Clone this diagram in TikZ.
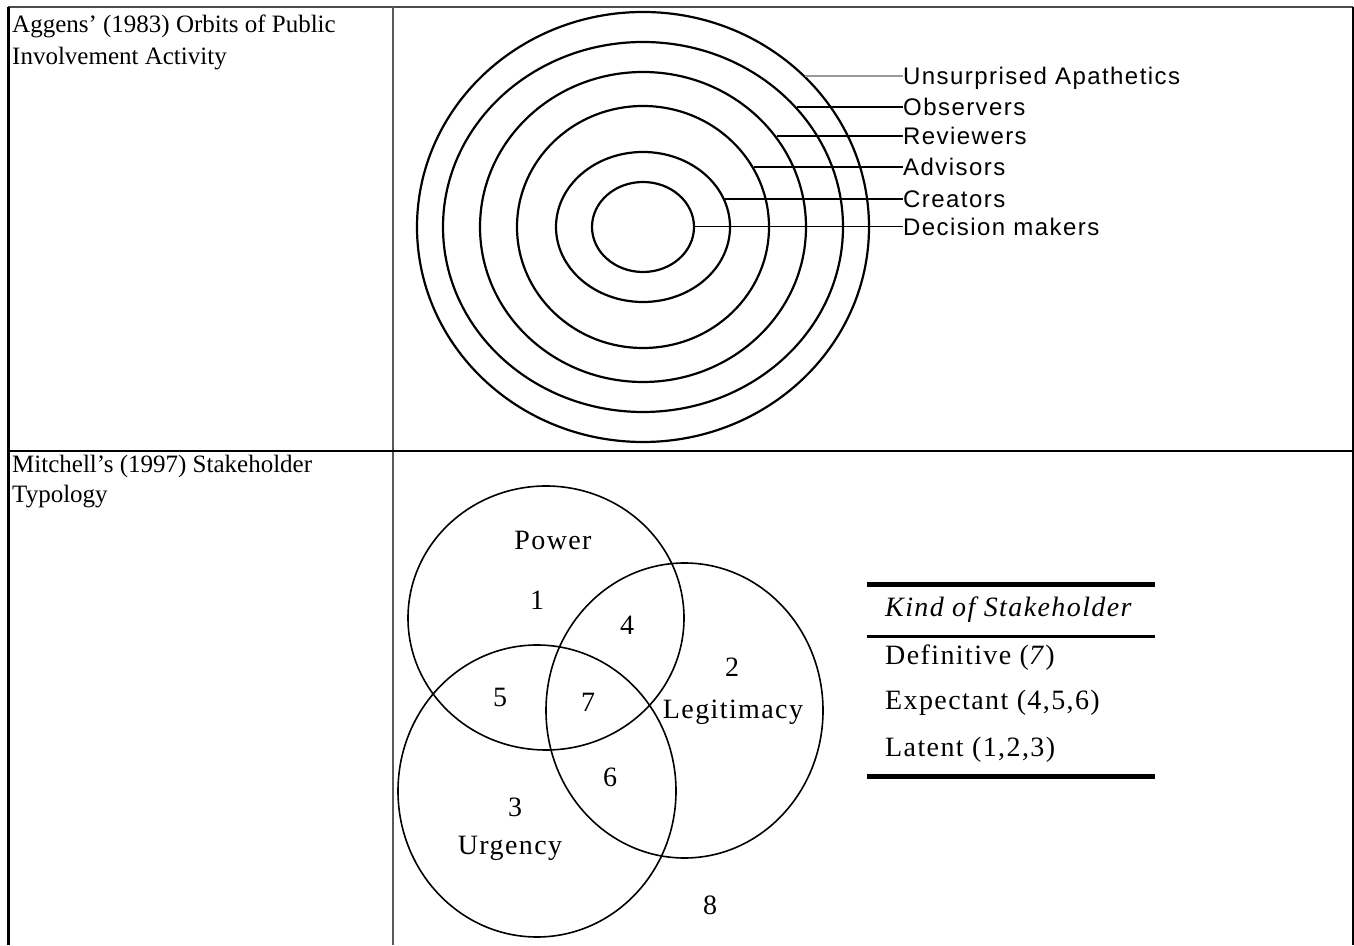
\documentclass[tikz,border=0pt]{standalone}
\usepackage{fontspec}
\setmainfont{Liberation Serif}
\newfontfamily\orbitfont{Liberation Sans}[LetterSpace=6]
\newfontfamily\vennfont{Liberation Serif}[LetterSpace=5]
\usetikzlibrary{shapes.geometric}

\begin{document}
\begin{tikzpicture}[
    x=1pt, y=1pt,
    orbit/.style={
        ellipse,
        draw=black,
        line width=2.2pt,
        inner sep=0pt
    },
    set/.style={ellipse, draw=black, line width=1.6pt, inner sep=0pt},
    tag/.style={font=\orbitfont\fontsize{24}{24}\selectfont, anchor=west,
        inner sep=0pt, text height=17pt, text depth=0pt},
    cell/.style={font=\fontsize{25}{32}\selectfont, anchor=base west, inner sep=0pt},
    num/.style={font=\vennfont\fontsize{28}{28}\selectfont, inner sep=0pt},
    row/.style={font=\vennfont\fontsize{28}{28}\selectfont, anchor=base west, inner sep=0pt}
]
\useasboundingbox (0,0) rectangle (1354,945);

% 表格框线
\draw[line width=2pt, black!70] (8,938) -- (1353,938);
\draw[line width=3pt] (8.5,938) -- (8.5,0);
\draw[line width=2.5pt, black!65] (393,938) -- (393,0);
\draw[line width=2pt] (8,494) -- (1353,494);
\draw[line width=2pt] (1352.5,938) -- (1352.5,0);

% 左栏文字
\node[cell] (aggens1) at (12,912) {Aggens’ (1983) Orbits of Public};
\node[cell] (aggens2) at (12,880) {Involvement Activity};
\node[cell] (mitchell1) at (12,472) {Mitchell’s (1997) Stakeholder};
\node[cell] (mitchell2) at (12,442) {Typology};

% 同心圆
\node[orbit, minimum width=452pt, minimum height=430pt] (o6) at (643,718) {};
\node[orbit, minimum width=400pt, minimum height=370pt] (o5) at (643,718) {};
\node[orbit, minimum width=326pt, minimum height=310pt] (o4) at (643,718) {};
\node[orbit, minimum width=252pt, minimum height=242pt] (o3) at (643,718) {};
\node[orbit, minimum width=174pt, minimum height=150pt] (o2) at (643,718) {};
\node[orbit, minimum width=102pt, minimum height=90pt] (o1) at (643,718) {};

% 同心圆标注
\node[tag] (apathetics) at (903,869) {Unsurprised Apathetics};
\node[tag] (observers) at (903,838) {Observers};
\node[tag] (reviewers) at (903,809) {Reviewers};
\node[tag] (advisors) at (903,778) {Advisors};
\node[tag] (creators) at (903,746) {Creators};
\node[tag] (deciders) at (903,718) {Decision makers};

\draw[line width=1.5pt, black!40] (apathetics.west) -- (apathetics.west -| o6.43.2);
\draw[line width=1.5pt] (observers.west) -- (observers.west -| o5.38.3);
\draw[line width=2.5pt] (reviewers.west) -- (reviewers.west -| o4.34.6);
\draw[line width=1.5pt] (advisors.west) -- (advisors.west -| o3.28.7);
\draw[line width=2pt] (creators.west) -- (creators.west -| o2.19.1);
\draw[line width=1pt] (deciders.west) -- (o1.east);

% 三个集合
\node[set, minimum width=276pt, minimum height=264pt] (power) at (546,327) {};
\node[set, minimum width=277pt, minimum height=295pt] (legit) at (684.5,234.5) {};
\node[set, minimum width=278pt, minimum height=292pt] (urgency) at (537,154) {};

% 集合标签
\node[num] (powername) at (553,405) {Power};
\node[num] (legitname) at (733,233) {Legitimacy};
\node[num] (urgname) at (510,97) {Urgency};
\node[num] (n1) at (537,345) {1};
\node[num] (n2) at (732,278) {2};
\node[num] (n3) at (515,138) {3};
\node[num] (n4) at (627,320) {4};
\node[num] (n5) at (500,248) {5};
\node[num] (n6) at (610,168) {6};
\node[num] (n7) at (588,243) {7};
\node[num] (n8) at (710,40) {8};

% 右侧小表
\draw[line width=5pt] (867,360) -- (1155,360);
\draw[line width=3pt] (867,308) -- (1155,308);
\draw[line width=5pt] (867,168) -- (1155,168);
\node[row] (kind) at (885,328) {\itshape Kind of Stakeholder};
\node[row] (definitive) at (885,280) {Definitive (\textit{7})};
\node[row] (expectant) at (885,235) {Expectant (4,5,6)};
\node[row] (latent) at (885,188) {Latent (1,2,3)};

\end{tikzpicture}
\end{document}
